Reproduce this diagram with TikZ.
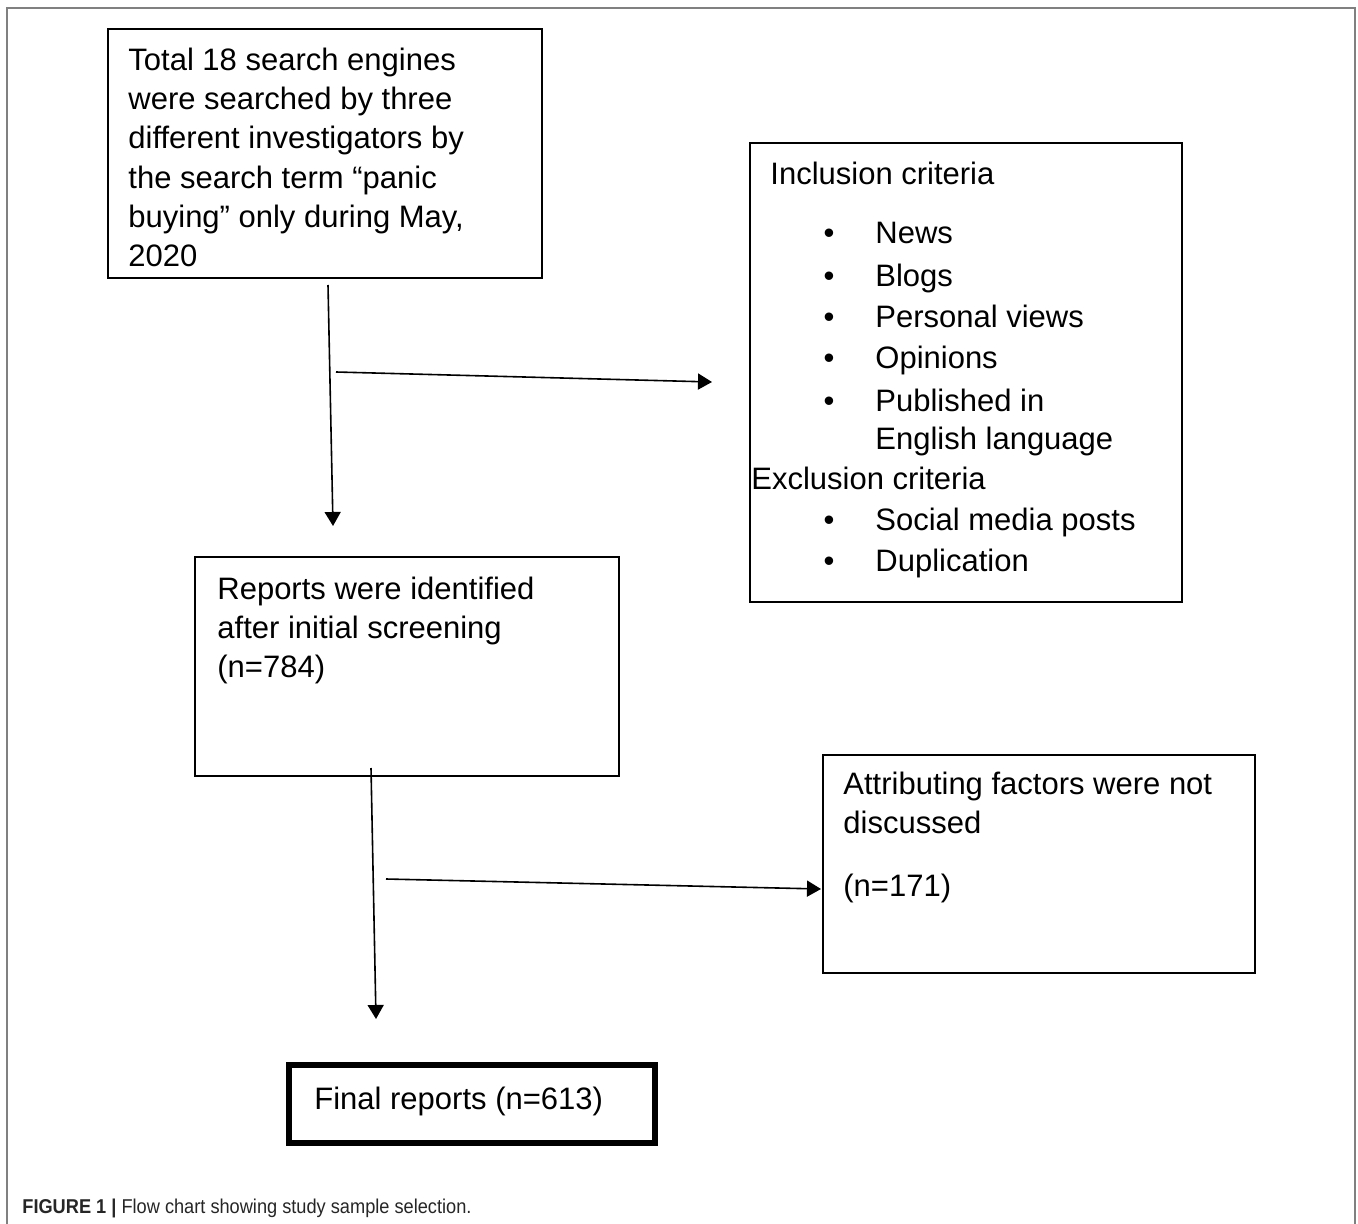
\documentclass[tikz,border=0pt]{standalone}
\usepackage{fontspec}
\setmainfont{Liberation Sans}
\usetikzlibrary{arrows.meta}
\tikzset{
  box/.style={draw=black, line width=1pt, rectangle, inner sep=0pt},
  thickbox/.style={draw=black, line width=2.6pt, rectangle, inner sep=0pt},
  txt/.style={anchor=base west, inner sep=0pt, font=\fontsize{15.5pt}{19.5pt}\selectfont},
  bul/.style={anchor=base, inner sep=0pt, font=\fontsize{15.5pt}{19.5pt}\selectfont},
  conn/.style={line width=0.8pt, -{Triangle[length=7pt,width=8pt]}},
  frameline/.style={draw=black!50, line width=1pt}
}
\begin{document}
\begin{tikzpicture}[x=0.5pt,y=-0.5pt]
\useasboundingbox (0,0) rectangle (1358,1224);
\fill[white] (0,0) rectangle (1358,1224);
\draw[frameline] (7,1224) -- (7,8) -- (1355,8) -- (1355,1224);

% boxes
\node[box, minimum width=217pt, minimum height=124.5pt] (A) at (325,153.5) {};
\node[box, minimum width=216pt, minimum height=229.5pt] (B) at (966,372.5) {};
\node[box, minimum width=212pt, minimum height=109.5pt] (C) at (407,666.5) {};
\node[box, minimum width=216pt, minimum height=109pt] (D) at (1039,864) {};
\node[thickbox, minimum width=183pt, minimum height=39pt] (E) at (472,1104) {};

% box A text
\node[txt] (a1) at (128,71) {Total 18 search engines};
\node[txt] (a2) at (128,110) {were searched by three};
\node[txt] (a3) at (128,149) {different investigators by};
\node[txt] (a4) at (128,189) {the search term “panic};
\node[txt] (a5) at (128,228) {buying” only during May,};
\node[txt] (a6) at (128,267) {2020};

% box B text
\node[txt] (b0) at (770,185) {Inclusion criteria};
\node[bul] (bb1) at (829,244) {•};
\node[txt] (b1) at (875,244) {News};
\node[bul] (bb2) at (829,287) {•};
\node[txt] (b2) at (875,287) {Blogs};
\node[bul] (bb3) at (829,328) {•};
\node[txt] (b3) at (875,328) {Personal views};
\node[bul] (bb4) at (829,369) {•};
\node[txt] (b4) at (875,369) {Opinions};
\node[bul] (bb5) at (829,412) {•};
\node[txt] (b5) at (875,412) {Published in};
\node[txt] (b6) at (875,450) {English language};
\node[txt] (b7) at (751,489) {Exclusion criteria};
\node[bul] (bb8) at (829,530) {•};
\node[txt] (b8) at (875,530) {Social media posts};
\node[bul] (bb9) at (829,571) {•};
\node[txt] (b9) at (875,571) {Duplication};

% box C text
\node[txt] (c1) at (217,599) {Reports were identified};
\node[txt] (c2) at (217,638) {after initial screening};
\node[txt] (c3) at (217,677) {(n=784)};

% box D text
\node[txt] (d1) at (843,794) {Attributing factors were not};
\node[txt] (d2) at (843,833) {discussed};
\node[txt] (d3) at (843,896) {(n=171)};

% box E text
\node[txt] (e1) at (314,1109) {Final reports (n=613)};

% connectors
\coordinate (v1s) at (328,285);
\coordinate (v1e) at (333,526);
\coordinate (h1s) at (336,372);
\coordinate (h1e) at (712,382);
\coordinate (v2s) at (371,768);
\coordinate (v2e) at (376,1019);
\coordinate (h2s) at (386,879);
\coordinate (h2e) at (821,889);
\draw[conn] (v1s) -- (v1e);
\draw[conn] (h1s) -- (h1e);
\draw[conn] (v2s) -- (v2e);
\draw[conn] (h2s) -- (h2e);

% caption
\node[anchor=base west, inner sep=0pt, font=\fontsize{10pt}{11pt}\selectfont, text=black!85] (cap) at (22,1213)
  {\scalebox{0.91}[1]{\textbf{FIGURE 1 |} Flow chart showing study sample selection.}};
\end{tikzpicture}
\end{document}
